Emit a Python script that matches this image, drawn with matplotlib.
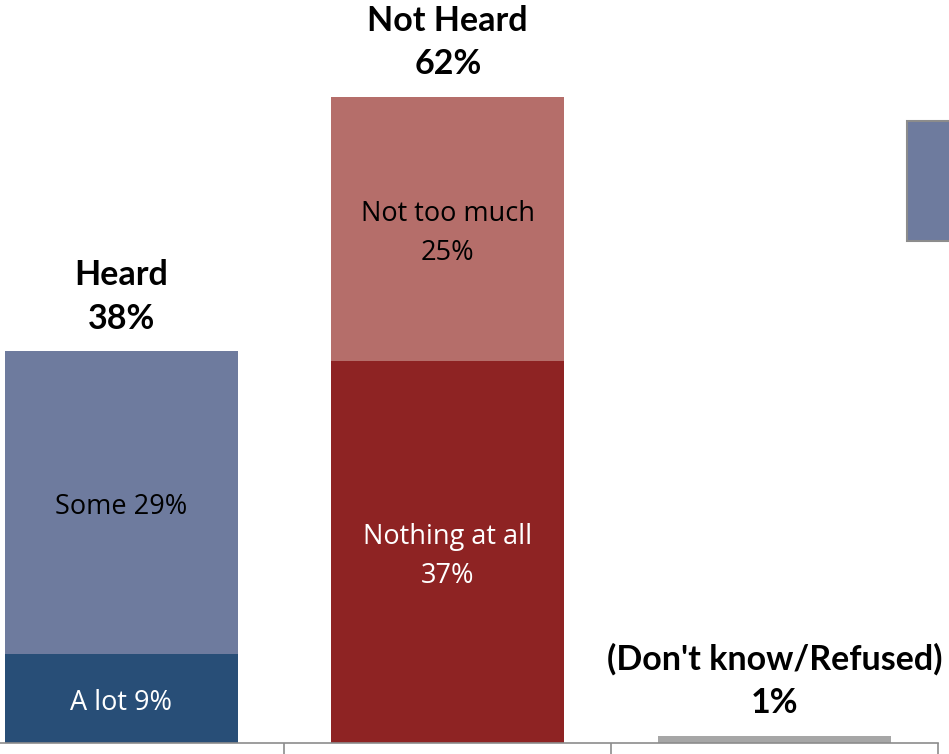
import matplotlib.pyplot as plt

# values (percent)
groups = ["Heard", "Not Heard", "(Don't know/Refused)"]
group_pct = ["38%", "62%", "1%"]
lower_vals = [8.5, 36.7, 0.7]
upper_vals = [29.1, 25.3, 0.0]
lower_labels = ["A lot 9%", "Nothing at all\n37%", ""]
upper_labels = ["Some 29%", "Not too much\n25%", ""]
lower_colors = ["#284e77", "#8e2323", "#a6a6a6"]
upper_colors = ["#6e7b9e", "#b56e6a", "#a6a6a6"]
lower_text = ["white", "white", "black"]
upper_text = ["black", "black", "black"]

# partially visible box at the right edge
side_x = [2.763]
side_bottom = [48.2]
side_height = [11.5]

plt.rcParams['font.family'] = ['Lato', 'DejaVu Sans']

fig = plt.figure(figsize=(9.49, 7.54), dpi=100)
ax = fig.add_axes([0, 11 / 754, 1, 743 / 754])

x = list(range(len(groups)))
w = 0.713
ax.bar(x, lower_vals, width=w, color=lower_colors, zorder=2)
ax.bar(x, upper_vals, width=w, bottom=lower_vals, color=upper_colors, zorder=2)
ax.bar(side_x, side_height, width=w, bottom=side_bottom, color="#6e7b9e",
       edgecolor="#8c8c8c", linewidth=1.5, clip_on=False, zorder=2)

inner_font = ['Open Sans', 'DejaVu Sans']
for i in x:
    lo, up = lower_vals[i], upper_vals[i]
    if lower_labels[i]:
        ax.text(i, lo / 2 - 0.45, lower_labels[i], ha="center", va="center",
                color=lower_text[i], fontsize=19.5, family=inner_font,
                linespacing=1.5)
    if upper_labels[i]:
        ax.text(i, lo + up / 2 - 0.45, upper_labels[i], ha="center", va="center",
                color=upper_text[i], fontsize=19.5, family=inner_font,
                linespacing=1.5)
    ax.text(i, lo + up + 1.6, groups[i] + "\n" + group_pct[i], ha="center", va="bottom",
            fontsize=24.5, fontweight="bold", linespacing=1.45)

ax.set_xlim(-0.3704, 2.534)
ax.set_ylim(0, 71.3)
for s in ["top", "left", "right"]:
    ax.spines[s].set_visible(False)
ax.spines["bottom"].set_color("#8c8c8c")
ax.spines["bottom"].set_linewidth(1.2)
ax.spines["bottom"].set_bounds(-0.3704, 2.5)
ax.spines["bottom"].set_zorder(3)
ax.set_yticks([])
ax.set_xticks([0.5, 1.5, 2.5])
ax.set_xticklabels([])
ax.tick_params(axis="x", direction="out", length=8, width=1.2, color="#8c8c8c")

fig.savefig("out.png", dpi=100)
